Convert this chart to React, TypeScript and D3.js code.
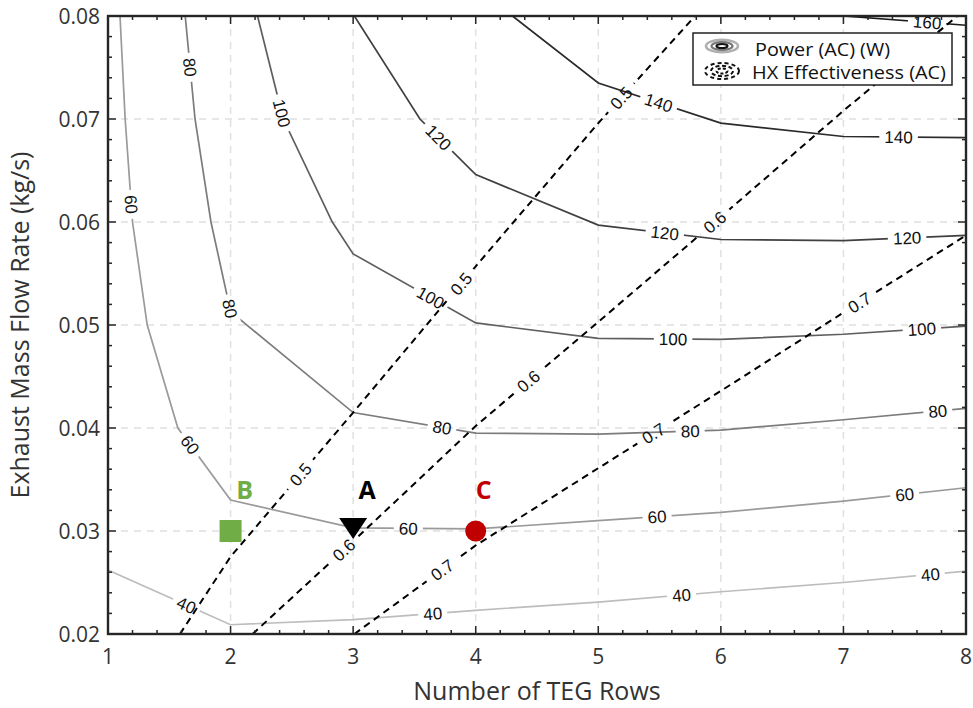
import React from "react";
import * as d3 from "d3";

// Canvas and plot frame
const W = 973;
const H = 708;
const PLOT = { left: 108, right: 966, top: 16, bottom: 634 };

// Axis ticks
const rowTicks = [1, 2, 3, 4, 5, 6, 7, 8];
const flowTicks = [0.02, 0.03, 0.04, 0.05, 0.06, 0.07, 0.08];

type Pt = [number, number];

// Power (AC) contour lines, [TEG rows, mass flow kg/s]
const power40: Pt[] = [[1, 0.0262], [2, 0.0209], [3, 0.0214], [4, 0.0223], [5, 0.0231], [6, 0.0241], [7, 0.025], [8, 0.0261]];
const power60: Pt[] = [[1.098, 0.08], [1.14, 0.07], [1.2, 0.06], [1.32, 0.05], [1.57, 0.04], [2, 0.033], [3, 0.0303], [4, 0.0302], [5, 0.031], [6, 0.0318], [7, 0.0329], [8, 0.0342]];
const power80: Pt[] = [[1.63, 0.08], [1.71, 0.07], [1.84, 0.06], [2, 0.0513], [3, 0.0415], [4, 0.0395], [5, 0.0394], [6, 0.0398], [7, 0.0408], [8, 0.0419]];
const power100: Pt[] = [[2.22, 0.08], [2.43, 0.07], [2.83, 0.06], [3, 0.0569], [4, 0.0502], [5, 0.0487], [6, 0.0486], [7, 0.0491], [8, 0.0499]];
const power120: Pt[] = [[3.01, 0.08], [3.545, 0.07], [4, 0.0646], [5, 0.0597], [6, 0.0583], [7, 0.0582], [8, 0.0587]];
const power140: Pt[] = [[4.3, 0.08], [5, 0.0735], [6, 0.0696], [7, 0.0683], [8, 0.0682]];
const power160: Pt[] = [[7.0, 0.08], [8, 0.0791]];

// Where each power contour carries its inline value label
const power40Labels: Pt[] = [[1.636, 0.0227], [3.65, 0.0218], [5.68, 0.0237], [7.71, 0.0257]];
const power60Labels: Pt[] = [[1.18, 0.0617], [1.65, 0.0382], [3.45, 0.0301], [5.48, 0.0314], [7.5, 0.0335]];
const power80Labels: Pt[] = [[1.65, 0.075], [2.04, 0.0517], [3.72, 0.0397], [5.75, 0.0396], [7.77, 0.0416]];
const power100Labels: Pt[] = [[2.43, 0.0706], [3.63, 0.0526], [5.61, 0.0485], [7.64, 0.0496]];
const power120Labels: Pt[] = [[3.68, 0.068], [5.54, 0.0587], [7.52, 0.0583]];
const power140Labels: Pt[] = [[5.49, 0.0715], [7.45, 0.0682]];
const power160Labels: Pt[] = [[7.68, 0.0789]];

// Heat-exchanger effectiveness contour lines
const eff50: Pt[] = [[1.587, 0.02], [2, 0.0275], [3, 0.0415], [4, 0.0557], [5, 0.0696], [5.79, 0.08]];
const eff60: Pt[] = [[2.18, 0.02], [3, 0.029], [4, 0.0402], [5, 0.0503], [6, 0.0605], [7, 0.0708], [7.93, 0.08]];
const eff70: Pt[] = [[3.01, 0.02], [4, 0.0286], [5, 0.0361], [6, 0.0436], [7, 0.0512], [8, 0.0587]];

const eff50Labels: Pt[] = [[2.61, 0.0351], [3.89, 0.0539], [5.19, 0.072]];
const eff60Labels: Pt[] = [[2.92, 0.0282], [4.44, 0.0444], [5.95, 0.06]];
const eff70Labels: Pt[] = [[3.77, 0.0255], [5.45, 0.0395], [7.12, 0.0524]];

// Highlighted design points
const designNames = ["B", "A", "C"];
const designRows = [2, 3, 4];
const designFlows = [0.03, 0.03, 0.03];
const designColors = ["#70AD47", "#000000", "#C00000"];

interface Line {
  key: string;
  text: string;
  pts: Pt[];
  labels: Pt[];
  color: string;
  dashed: boolean;
}

const lines: Line[] = [
  { key: "p40", text: "40", pts: power40, labels: power40Labels, color: "#bdbdbd", dashed: false },
  { key: "p60", text: "60", pts: power60, labels: power60Labels, color: "#9a9a9a", dashed: false },
  { key: "p80", text: "80", pts: power80, labels: power80Labels, color: "#7c7c7c", dashed: false },
  { key: "p100", text: "100", pts: power100, labels: power100Labels, color: "#5e5e5e", dashed: false },
  { key: "p120", text: "120", pts: power120, labels: power120Labels, color: "#404040", dashed: false },
  { key: "p140", text: "140", pts: power140, labels: power140Labels, color: "#2b2b2b", dashed: false },
  { key: "p160", text: "160", pts: power160, labels: power160Labels, color: "#1a1a1a", dashed: false },
  { key: "e50", text: "0.5", pts: eff50, labels: eff50Labels, color: "#000", dashed: true },
  { key: "e60", text: "0.6", pts: eff60, labels: eff60Labels, color: "#000", dashed: true },
  { key: "e70", text: "0.7", pts: eff70, labels: eff70Labels, color: "#000", dashed: true },
];

const x = d3.scaleLinear().domain([1, 8]).range([PLOT.left, PLOT.right]);
const y = d3.scaleLinear().domain([0.02, 0.08]).range([PLOT.bottom, PLOT.top]);

const lineGen = d3
  .line<Pt>()
  .x((d) => x(d[0]))
  .y((d) => y(d[1]));

// Snap a label onto its polyline and take the local direction for rotation
function placeLabel(pts: Pt[], p: Pt) {
  const px = x(p[0]);
  const py = y(p[1]);
  let best = { d: Infinity, x: px, y: py, ang: 0 };
  for (let i = 0; i < pts.length - 1; i++) {
    const ax = x(pts[i][0]), ay = y(pts[i][1]);
    const bx = x(pts[i + 1][0]), by = y(pts[i + 1][1]);
    const dx = bx - ax, dy = by - ay;
    const len2 = dx * dx + dy * dy;
    let t = ((px - ax) * dx + (py - ay) * dy) / len2;
    t = Math.max(0, Math.min(1, t));
    const qx = ax + t * dx, qy = ay + t * dy;
    const d = Math.hypot(px - qx, py - qy);
    if (d < best.d) {
      let ang = (Math.atan2(dy, dx) * 180) / Math.PI;
      if (ang > 90) ang -= 180;
      if (ang <= -90) ang += 180;
      best = { d, x: qx, y: qy, ang };
    }
  }
  return best;
}

const LABEL_FONT = "'Liberation Sans', Arial, sans-serif";
const TEXT_FONT = "'Open Sans', 'Noto Sans', sans-serif";

export default function App() {
  const minorX = d3.range(1, 8.001, 0.2);
  const minorY = d3.range(0.02, 0.08001, 0.002);

  return (
    <svg
      width={W}
      height={H}
      viewBox={`0 0 ${W} ${H}`}
      style={{ position: "absolute", left: 0, top: 0, background: "#fff" }}
    >
      <defs>
        <clipPath id="plot-clip">
          <rect x={PLOT.left} y={PLOT.top} width={PLOT.right - PLOT.left} height={PLOT.bottom - PLOT.top} />
        </clipPath>
        {lines.map((ln) => (
          <mask id={`gap-${ln.key}`} key={ln.key} maskUnits="userSpaceOnUse" x={0} y={0} width={W} height={H}>
            <rect x={0} y={0} width={W} height={H} fill="white" />
            {ln.labels.map((lp, i) => {
              const p = placeLabel(ln.pts, lp);
              const w = ln.text.length * 9.5 + 10;
              return (
                <rect
                  key={i}
                  x={-w / 2}
                  y={-8}
                  width={w}
                  height={16}
                  fill="black"
                  transform={`translate(${p.x},${p.y}) rotate(${p.ang})`}
                />
              );
            })}
          </mask>
        ))}
      </defs>

      {/* grid */}
      <g stroke="#e0e0e0" strokeWidth={1.5} strokeDasharray="7,6">
        {rowTicks.slice(1, -1).map((t) => (
          <line key={`gx${t}`} x1={x(t)} x2={x(t)} y1={PLOT.top} y2={PLOT.bottom} />
        ))}
        {flowTicks.slice(1, -1).map((t) => (
          <line key={`gy${t}`} x1={PLOT.left} x2={PLOT.right} y1={y(t)} y2={y(t)} />
        ))}
      </g>

      {/* contour lines */}
      <g clipPath="url(#plot-clip)" fill="none">
        {lines.map((ln) => (
          <path
            key={ln.key}
            d={lineGen(ln.pts) || ""}
            stroke={ln.color}
            strokeWidth={ln.dashed ? 2 : 1.7}
            strokeDasharray={ln.dashed ? "7,5" : undefined}
            mask={`url(#gap-${ln.key})`}
          />
        ))}
      </g>

      {/* inline contour labels */}
      <g fontFamily={LABEL_FONT} fontSize={17} fill="#111" textAnchor="middle">
        {lines.map((ln) =>
          ln.labels.map((lp, i) => {
            const p = placeLabel(ln.pts, lp);
            return (
              <text
                key={`${ln.key}-${i}`}
                transform={`translate(${p.x},${p.y}) rotate(${p.ang})`}
                dy="0.36em"
              >
                {ln.text}
              </text>
            );
          })
        )}
      </g>

      {/* design points */}
      <g>
        <rect
          x={x(designRows[0]) - 11}
          y={y(designFlows[0]) - 11}
          width={22}
          height={22}
          fill={designColors[0]}
        />
        <path
          d={`M${x(designRows[1]) - 14},${y(designFlows[1]) - 13} L${x(designRows[1]) + 14},${y(designFlows[1]) - 13} L${x(designRows[1])},${y(designFlows[1]) + 8} Z`}
          fill={designColors[1]}
        />
        <circle cx={x(designRows[2])} cy={y(designFlows[2])} r={10.5} fill={designColors[2]} />
      </g>
      <g fontFamily={TEXT_FONT} fontWeight={700} fontSize={25} textAnchor="middle">
        {designNames.map((n, i) => (
          <text key={n} x={x(designRows[i]) + [14, 14, 8][i]} y={y(designFlows[i]) - 32} fill={designColors[i]}>
            {n}
          </text>
        ))}
      </g>

      {/* legend */}
      <g>
        <rect x={693} y={33} width={259} height={52} fill="#fff" stroke="#222" strokeWidth={1.5} />
        <g fill="none">
          <ellipse cx={722} cy={46} rx={16} ry={6.2} stroke="#b0b0b0" strokeWidth={2.6} />
          <ellipse cx={722} cy={46} rx={10.5} ry={4} stroke="#777" strokeWidth={2.2} />
          <ellipse cx={722} cy={46} rx={5.5} ry={2} stroke="#111" strokeWidth={2.2} />
          <ellipse cx={722} cy={71} rx={17} ry={8} stroke="#111" strokeWidth={2} strokeDasharray="4,3" />
          <ellipse cx={722} cy={71} rx={11} ry={5.2} stroke="#111" strokeWidth={2} strokeDasharray="4,2.5" />
          <ellipse cx={722} cy={71} rx={5.5} ry={2.6} stroke="#111" strokeWidth={2} strokeDasharray="3,2" />
        </g>
        <g fontFamily={TEXT_FONT} fontSize={18.5} fill="#111">
          <text x={755} y={56} textLength={135} lengthAdjust="spacingAndGlyphs">Power (AC) (W)</text>
          <text x={752} y={79} textLength={194} lengthAdjust="spacingAndGlyphs">HX Effectiveness (AC)</text>
        </g>
      </g>

      {/* axes frame and ticks */}
      <g stroke="#262626" strokeWidth={1.5}>
        {minorX.map((t, i) => {
          const len = Math.abs(t - Math.round(t)) < 1e-6 ? 8 : 4;
          return (
            <g key={`tx${i}`}>
              <line x1={x(t)} x2={x(t)} y1={PLOT.bottom} y2={PLOT.bottom - len} />
              <line x1={x(t)} x2={x(t)} y1={PLOT.top} y2={PLOT.top + len} />
            </g>
          );
        })}
        {minorY.map((t, i) => {
          const major = i % 5 === 0;
          const len = major ? 8 : 4;
          return (
            <g key={`ty${i}`}>
              <line x1={PLOT.left} x2={PLOT.left + len} y1={y(t)} y2={y(t)} />
              <line x1={PLOT.right} x2={PLOT.right - len} y1={y(t)} y2={y(t)} />
            </g>
          );
        })}
        <rect
          x={PLOT.left}
          y={PLOT.top}
          width={PLOT.right - PLOT.left}
          height={PLOT.bottom - PLOT.top}
          fill="none"
          strokeWidth={2.4}
        />
      </g>

      {/* tick labels */}
      <g fontFamily={TEXT_FONT} fontSize={21} fill="#333">
        {rowTicks.map((t) => (
          <text key={`lx${t}`} x={x(t)} y={PLOT.bottom + 30} textAnchor="middle">
            {t}
          </text>
        ))}
        {flowTicks.map((t) => (
          <text key={`ly${t}`} x={PLOT.left - 8} y={y(t)} dy="0.36em" textAnchor="end">
            {d3.format(".2f")(t)}
          </text>
        ))}
      </g>

      {/* axis titles */}
      <g fontFamily={TEXT_FONT} fontSize={25} fill="#333" textAnchor="middle">
        <text x={(PLOT.left + PLOT.right) / 2} y={700}>
          Number of TEG Rows
        </text>
        <text transform={`translate(29,${(PLOT.top + PLOT.bottom) / 2}) rotate(-90)`}>
          Exhaust Mass Flow Rate (kg/s)
        </text>
      </g>
    </svg>
  );
}
